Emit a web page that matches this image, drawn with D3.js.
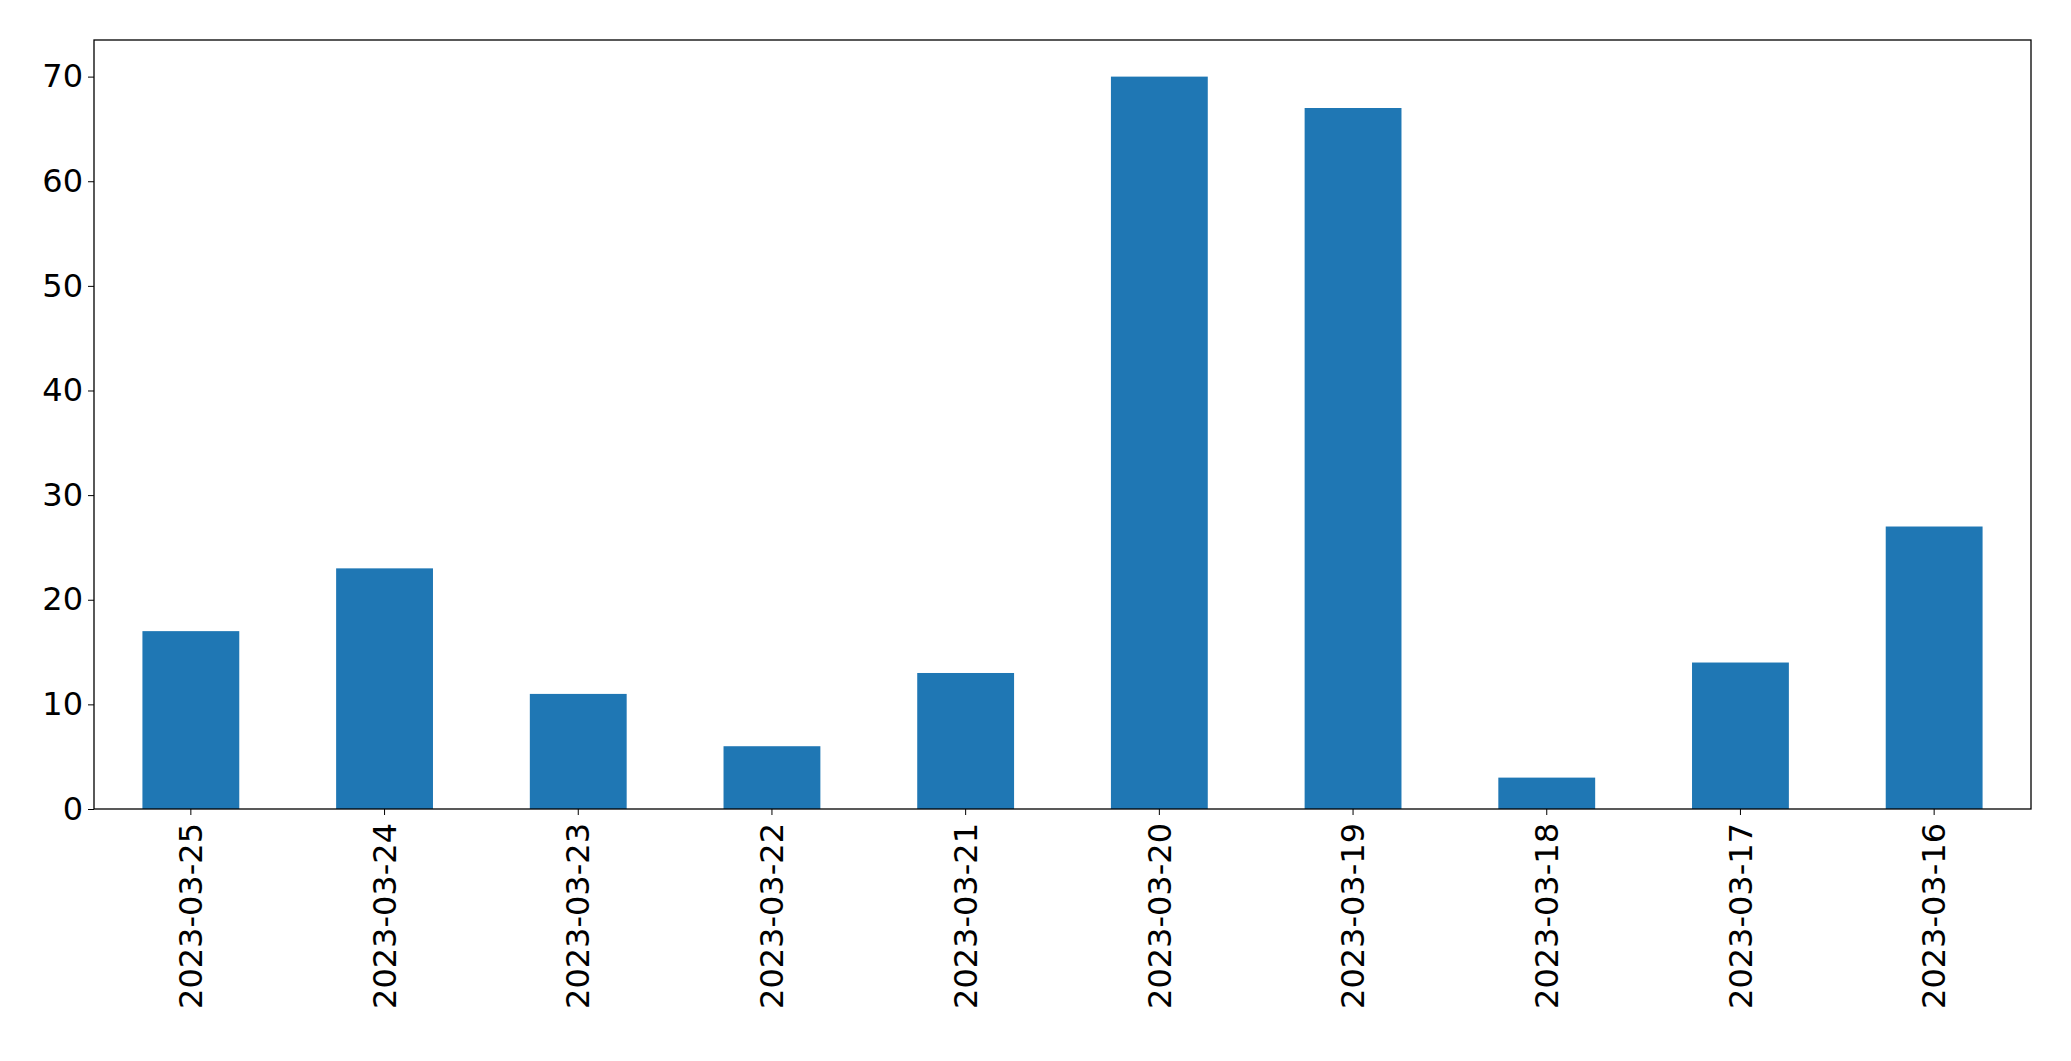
<!DOCTYPE html><html><head><script src="https://cdn.jsdelivr.net/npm/d3@7"></script>
<style>body{margin:0;background:#fff}text{font-family:"DejaVu Sans";}</style></head><body><svg id="c" width="2071" height="1061"></svg>
<script>
const categories=["2023-03-25","2023-03-24","2023-03-23","2023-03-22","2023-03-21","2023-03-20","2023-03-19","2023-03-18","2023-03-17","2023-03-16"];
const values=[17,23,11,6,13,70,67,3,14,27];
const yTicks=[0,10,20,30,40,50,60,70];
const m={l:94,r:2031,t:40,b:809};
const svg=d3.select("#c");
const x=d3.scaleBand().domain(categories).range([m.l,m.r]).paddingInner(0.5).paddingOuter(0.25);
const y=d3.scaleLinear().domain([0,73.5]).range([m.b,m.t]);
svg.selectAll("rect.b").data(values).join("rect").attr("class","b")
 .attr("x",(d,i)=>x(categories[i])).attr("width",x.bandwidth())
 .attr("y",d=>y(d)).attr("height",d=>y(0)-y(d)).attr("fill","#1f77b4");
const ya=svg.append("g").attr("transform",`translate(${m.l},0)`).call(d3.axisLeft(y).tickValues(yTicks).tickSize(6).tickPadding(5));
ya.selectAll("text").style("font-size","32px").attr("fill","#000");
const xa=svg.append("g").attr("transform",`translate(0,${m.b})`).call(d3.axisBottom(x).tickSize(6).tickPadding(5));
xa.selectAll("text").style("font-size","32px").attr("fill","#000").attr("text-anchor","end")
 .attr("transform","rotate(-90)").attr("x",-14).attr("y",0).attr("dy","0.35em");
svg.selectAll(".domain").remove();
svg.append("rect").attr("x",m.l).attr("y",m.t).attr("width",m.r-m.l).attr("height",m.b-m.t).attr("fill","none").attr("stroke","#000").attr("stroke-width",1.3);
</script></body></html>
